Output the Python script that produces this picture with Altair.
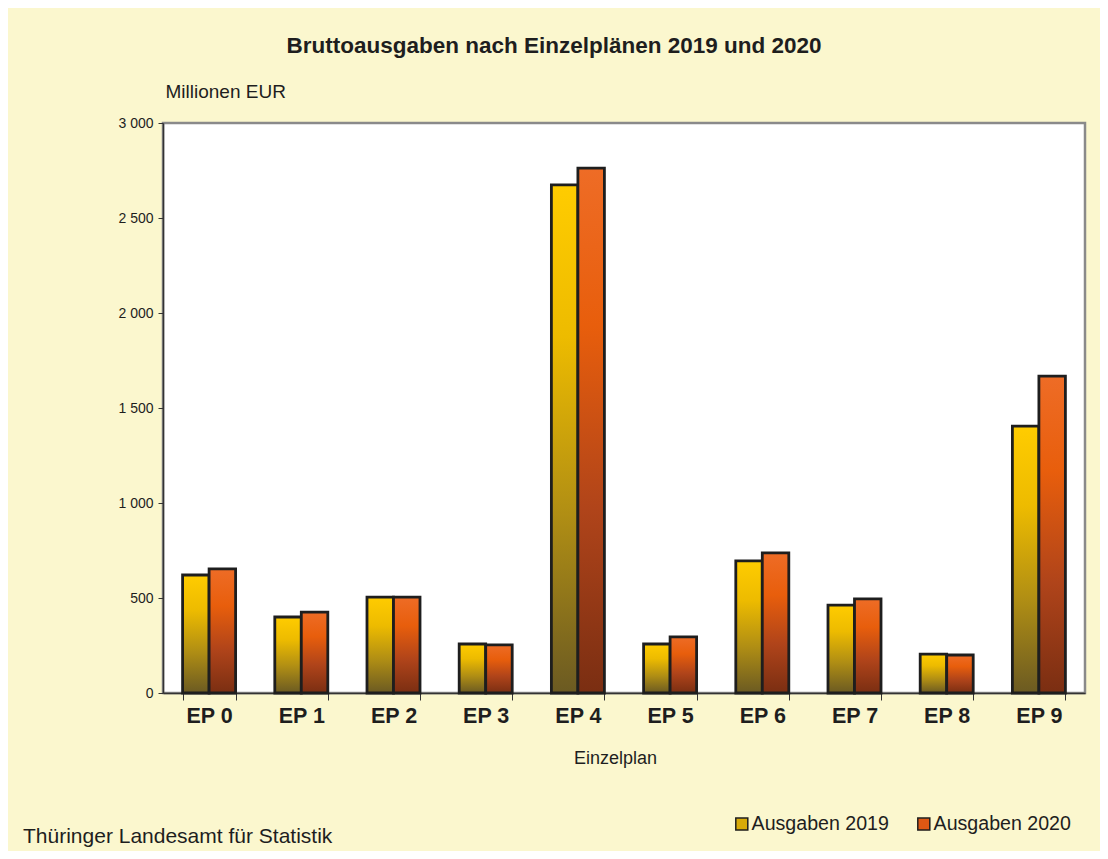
import altair as alt
import pandas as pd

categories = ["EP 0", "EP 1", "EP 2", "EP 3", "EP 4", "EP 5", "EP 6", "EP 7", "EP 8", "EP 9"]
series = ["Ausgaben 2019", "Ausgaben 2020"]
values_2019 = [621, 400, 505, 258, 2674, 258, 695, 463, 205, 1405]
values_2020 = [653, 426, 505, 253, 2763, 295, 737, 495, 200, 1668]
title_text = "Bruttoausgaben nach Einzelplänen 2019 und 2020"
y_title = "Millionen EUR"
x_title = "Einzelplan"
footer = "Thüringer Landesamt für Statistik"

rows = []
for c, v in zip(categories, values_2019):
    rows.append({"ep": c, "series": series[0], "value": v})
for c, v in zip(categories, values_2020):
    rows.append({"ep": c, "series": series[1], "value": v})
df = pd.DataFrame(rows)

FONT = "Liberation Sans"
TXT = "#1E1E1E"

grad_2019 = alt.Gradient(
    gradient="linear", x1=0, y1=0, x2=0, y2=1,
    stops=[
        alt.GradientStop(color="#FFCC00", offset=0),
        alt.GradientStop(color="#EDBB00", offset=0.3),
        alt.GradientStop(color="#B08E14", offset=0.65),
        alt.GradientStop(color="#6B5A22", offset=1),
    ],
)
grad_2020 = alt.Gradient(
    gradient="linear", x1=0, y1=0, x2=0, y2=1,
    stops=[
        alt.GradientStop(color="#EE6C26", offset=0),
        alt.GradientStop(color="#E85E0C", offset=0.3),
        alt.GradientStop(color="#B0441A", offset=0.65),
        alt.GradientStop(color="#7A2E12", offset=1),
    ],
)

x_enc = alt.X(
    "ep:N", sort=categories,
    scale=alt.Scale(paddingInner=0.425, paddingOuter=0.2125),
    axis=alt.Axis(
        title=x_title, labelAngle=0, labelFontSize=21.5, labelFontWeight="bold",
        labelFont=FONT, labelColor=TXT, tickBand="extent", tickSize=7,
        tickColor="#333333", labelPadding=5, domainColor="#333333", domainWidth=1.5,
        titleFont=FONT, titleFontSize=18, titleFontWeight="normal", titleColor=TXT,
        titleX=452, titleY=70, titleBaseline="alphabetic", titleAlign="center",
    ),
)
y_enc = alt.Y(
    "value:Q",
    scale=alt.Scale(domain=[0, 3000]),
    axis=alt.Axis(
        title=y_title, values=[0, 500, 1000, 1500, 2000, 2500, 3000],
        labelExpr="replace(format(datum.value, ','), ',', ' ')",
        grid=False, labelFontSize=14, labelFont=FONT, labelColor=TXT,
        tickSize=5, tickColor="#333333", labelPadding=5,
        domainColor="#333333", domainWidth=1.5,
        titleAngle=0, titleX=2, titleY=-26, titleAlign="left", titleBaseline="alphabetic",
        titleFont=FONT, titleFontSize=19, titleFontWeight="normal", titleColor=TXT,
    ),
)
xoff = alt.XOffset("series:N", scale=alt.Scale(domain=series))

base = alt.Chart(df)

bars_2019 = base.transform_filter(alt.datum.series == series[0]).mark_bar(
    fill=grad_2019, stroke="#1E1E1E", strokeWidth=2.8
).encode(x=x_enc, xOffset=xoff, y=y_enc)

bars_2020 = base.transform_filter(alt.datum.series == series[1]).mark_bar(
    fill=grad_2020, stroke="#1E1E1E", strokeWidth=2.8
).encode(x=x_enc, xOffset=xoff, y=y_enc)

legend_layer = base.mark_bar(opacity=0).encode(
    x=x_enc, xOffset=xoff, y=y_enc,
    color=alt.Color(
        "series:N",
        scale=alt.Scale(domain=series, range=["#D8AA08", "#DE5814"]),
        legend=alt.Legend(
            title=None, orient="none", direction="horizontal",
            legendX=569, legendY=691, padding=0,
            symbolType="square", symbolSize=144, symbolOpacity=1,
            symbolStrokeColor="#1E1E1E", symbolStrokeWidth=1.5,
            labelFont=FONT, labelFontSize=19.6, labelColor=TXT,
            labelOffset=0, columnPadding=25, labelLimit=300,
        ),
    ),
)

footer_layer = alt.Chart(pd.DataFrame({"t": [footer]})).mark_text(
    align="left", baseline="alphabetic", font=FONT, fontSize=21, color=TXT
).encode(x=alt.value(-140), y=alt.value(720), text="t:N")

chart = alt.layer(bars_2019, bars_2020, legend_layer, footer_layer).properties(
    width=922, height=570,
    autosize=alt.AutoSizeParams(type="none"),
    padding={"left": 155, "top": 115, "right": 15, "bottom": 158},
    title=alt.TitleParams(
        text=title_text, font=FONT, fontSize=22.5, fontWeight="bold", color=TXT,
        anchor="middle", dx=-70, offset=25,
    ),
    background="#FBF7CE",
).configure_view(
    fill="white", stroke="#8A8A8A", strokeWidth=2.5
)

chart.save("out.html", embed_options={"renderer": "svg", "actions": False})
